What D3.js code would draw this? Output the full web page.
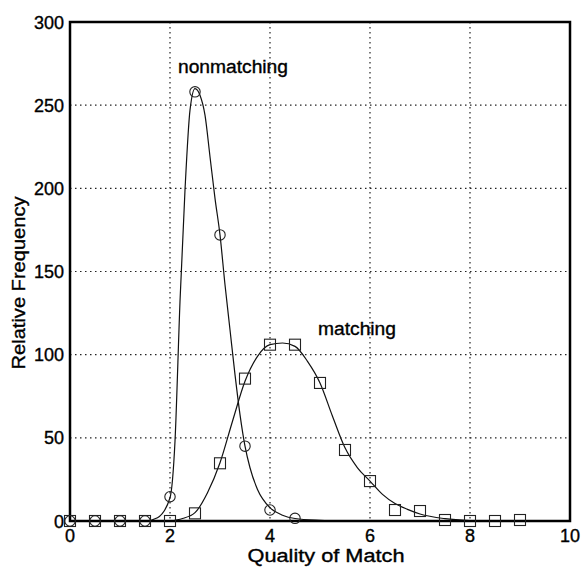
<!DOCTYPE html>
<html>
<head>
<meta charset="utf-8">
<script src="https://cdn.jsdelivr.net/npm/d3@7"></script>
<style>
  html, body { margin: 0; padding: 0; background: #fff; }
  text { font-family: "Liberation Sans", Arial, Helvetica, sans-serif; fill: #000; stroke: #000; stroke-width: 0.35; }
</style>
</head>
<body>
<div id="chart"></div>
<script>
  // markers
  const nonmatchX = [0, 0.5, 1, 1.5, 2, 2.5, 3, 3.5, 4, 4.5];
  const nonmatchY = [0, 0, 0, 0, 14.6, 258, 172, 45, 6.6, 1.6];
  const matchX = [0, 0.5, 1, 1.5, 2, 2.5, 3, 3.5, 4, 4.5, 5, 5.5, 6, 6.5, 7, 7.5, 8, 8.5, 9];
  const matchY = [0, 0, 0, 0, 0, 4.6, 34.7, 85.6, 106, 106, 83, 42.7, 24, 6.6, 6, 0.6, 0, 0, 0.6];

  // fitted curves
  const nonmatchCurveX = [0, 1.5, 1.75, 2.0, 2.1, 2.2, 2.3, 2.4, 2.5, 2.6, 2.7, 2.8, 2.9, 3.0, 3.1, 3.2, 3.3, 3.4, 3.5, 3.6, 3.75, 4.0, 4.25, 4.5, 5.0, 5.5];
  const nonmatchCurveY = [0, 0, 2, 14, 48, 132, 199, 247, 260, 256, 244, 219, 194, 172, 142, 115, 88, 64, 45, 32, 19, 8, 3.5, 1.5, 0.4, 0];
  const matchCurveX = [2.0, 2.25, 2.5, 2.75, 3.0, 3.25, 3.5, 3.75, 4.0, 4.25, 4.5, 4.75, 5.0, 5.25, 5.5, 5.75, 6.0, 6.25, 6.5, 6.75, 7.0, 7.5, 8.0, 8.5, 9.0];
  const matchCurveY = [0, 1.5, 5, 17, 35, 60, 84, 99, 106, 107, 105, 96, 83, 63, 44, 32, 24, 16, 10.5, 7, 4.2, 1.4, 0.3, 0, 0];

  const xTicks = [0, 2, 4, 6, 8, 10];
  const yTicks = [0, 50, 100, 150, 200, 250, 300];
  const xGrid = [2, 4, 6, 8];
  const yGrid = [50, 100, 150, 200, 250];

  const width = 583;
  const height = 571;
  const plotL = 70, plotR = 570, plotT = 22, plotB = 521;

  const svg = d3.select('#chart')
    .append('svg')
    .attr('width', width)
    .attr('height', height);

  const x = d3.scaleLinear().domain([0, 10]).range([plotL, plotR]);
  const y = d3.scaleLinear().domain([0, 300]).range([plotB, plotT]);

  // dotted grid
  const grid = svg.append('g')
    .attr('stroke', '#222')
    .attr('stroke-width', 1.2)
    .attr('stroke-dasharray', '1.5,3.5');
  grid.selectAll('.vg')
    .data(xGrid)
    .enter()
    .append('line')
    .attr('x1', d => x(d)).attr('x2', d => x(d))
    .attr('y1', plotT).attr('y2', plotB);
  grid.selectAll('.hg')
    .data(yGrid)
    .enter()
    .append('line')
    .attr('x1', plotL).attr('x2', plotR)
    .attr('y1', d => y(d)).attr('y2', d => y(d));

  // curves
  const line = d3.line()
    .x(d => x(d[0]))
    .y(d => y(d[1]))
    .curve(d3.curveMonotoneX);
  svg.append('path')
    .datum(nonmatchCurveX.map((v, i) => [v, nonmatchCurveY[i]]))
    .attr('d', line)
    .attr('fill', 'none')
    .attr('stroke', '#111')
    .attr('stroke-width', 1.2);
  svg.append('path')
    .datum(matchCurveX.map((v, i) => [v, matchCurveY[i]]))
    .attr('d', line)
    .attr('fill', 'none')
    .attr('stroke', '#111')
    .attr('stroke-width', 1.2);

  // frame
  svg.append('rect')
    .attr('x', plotL).attr('y', plotT)
    .attr('width', plotR - plotL).attr('height', plotB - plotT)
    .attr('fill', 'none')
    .attr('stroke', '#000')
    .attr('stroke-width', 2.5);

  // markers
  svg.selectAll('.sq')
    .data(matchX.map((v, i) => [v, matchY[i]]))
    .enter()
    .append('rect')
    .attr('x', d => x(d[0]) - 5.5)
    .attr('y', d => y(d[1]) - 5.5)
    .attr('width', 11).attr('height', 11)
    .attr('fill', 'none')
    .attr('stroke', '#222')
    .attr('stroke-width', 1.1);
  svg.selectAll('.ci')
    .data(nonmatchX.map((v, i) => [v, nonmatchY[i]]))
    .enter()
    .append('circle')
    .attr('cx', d => x(d[0]))
    .attr('cy', d => y(d[1]))
    .attr('r', 5.2)
    .attr('fill', 'none')
    .attr('stroke', '#222')
    .attr('stroke-width', 1.1);

  // tick labels
  svg.selectAll('.xl')
    .data(xTicks)
    .enter()
    .append('text')
    .attr('x', d => x(d))
    .attr('y', 542)
    .attr('text-anchor', 'middle')
    .attr('font-size', 18)
    .text(d => d);
  svg.selectAll('.yl')
    .data(yTicks)
    .enter()
    .append('text')
    .attr('x', 64)
    .attr('y', d => y(d) + 6.5)
    .attr('text-anchor', 'end')
    .attr('font-size', 18)
    .text(d => d);

  // titles
  svg.append('text')
    .attr('x', 326).attr('y', 562)
    .attr('text-anchor', 'middle')
    .attr('font-size', 18)
    .attr('textLength', 157)
    .attr('lengthAdjust', 'spacingAndGlyphs')
    .text('Quality of Match');
  svg.append('text')
    .attr('transform', 'translate(25,283) rotate(-90)')
    .attr('text-anchor', 'middle')
    .attr('font-size', 18)
    .attr('textLength', 173)
    .attr('lengthAdjust', 'spacingAndGlyphs')
    .text('Relative Frequency');

  svg.append('text')
    .attr('x', 178).attr('y', 73)
    .attr('font-size', 18)
    .attr('textLength', 110)
    .attr('lengthAdjust', 'spacingAndGlyphs')
    .text('nonmatching');
  svg.append('text')
    .attr('x', 318).attr('y', 335)
    .attr('font-size', 18)
    .attr('textLength', 78)
    .attr('lengthAdjust', 'spacingAndGlyphs')
    .text('matching');
</script>
</body>
</html>
